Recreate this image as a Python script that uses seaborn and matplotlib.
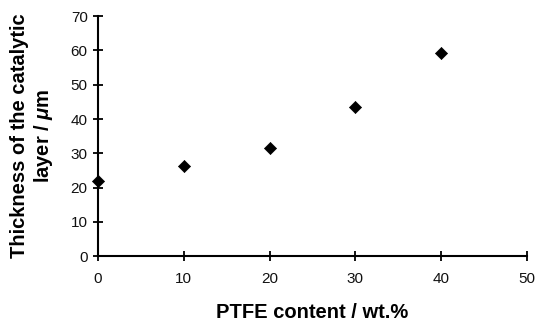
import matplotlib
matplotlib.use("Agg")
import matplotlib.pyplot as plt
import seaborn as sns
import pandas as pd

# PTFE content vs catalytic layer thickness
ptfe_content = [0, 10, 20, 30, 40]
thickness = [22.0, 26.4, 31.6, 43.5, 59.3]

sns.set_style("white")
plt.rcParams['font.family'] = ['Liberation Sans', 'DejaVu Sans']
plt.rcParams['mathtext.fontset'] = 'custom'
plt.rcParams['mathtext.it'] = 'Liberation Sans:italic:bold'
plt.rcParams['mathtext.rm'] = 'Liberation Sans:bold'

df = pd.DataFrame({"PTFE": ptfe_content, "Thickness": thickness})

fig = plt.figure(figsize=(5.36, 3.23), dpi=100)
ax = fig.add_axes([0.183, 0.207, 0.800, 0.743])

sns.scatterplot(data=df, x="PTFE", y="Thickness", ax=ax, marker="D",
                color="black", s=38, edgecolor="black", linewidth=0.5,
                clip_on=False, zorder=3)

ax.set_xlim(0, 50)
ax.set_ylim(0, 70)
ax.set_xticks(range(0, 51, 10))
ax.set_yticks(range(0, 71, 10))

for side in ["top", "right"]:
    ax.spines[side].set_visible(False)
for side in ["left", "bottom"]:
    ax.spines[side].set_color("black")
    ax.spines[side].set_linewidth(1.5)

ax.tick_params(axis="both", direction="inout", length=7, width=1.3,
               color="black", labelsize=11, labelcolor="#111111", pad=4,
               bottom=True, left=True)
ax.tick_params(axis="x", pad=8)

ax.set_xlabel("PTFE content / wt.%", fontsize=14.5, fontweight="bold",
              labelpad=12.5, color="black")
ax.set_ylabel("Thickness of the catalytic\nlayer / $\\mathit{\\mu}$m",
              fontsize=14.5, fontweight="bold", labelpad=11, linespacing=1.2,
              color="black")

fig.savefig("out.png", dpi=100)
